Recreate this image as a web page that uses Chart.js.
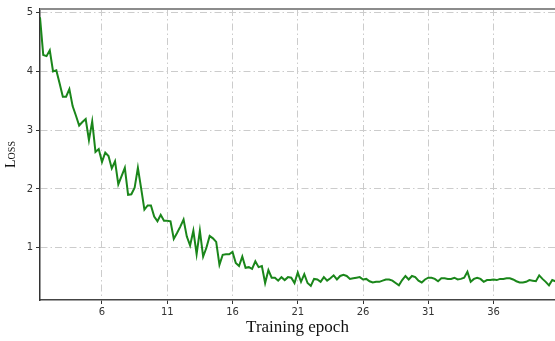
<!DOCTYPE html>
<html>
<head>
<meta charset="utf-8">
<script src="https://cdn.jsdelivr.net/npm/chart.js@4"></script>
<style>
  html, body { margin: 0; padding: 0; background: #ffffff; }
  canvas { display: block; }
</style>
</head>
<body>
<canvas id="c" width="555" height="341"></canvas>
<script>
// ---- data ----
const epochStart = 1.25;   // first sample (epoch)
const epochStep = 0.25;    // samples every quarter epoch
const lossValues = [
  4.92, 4.28, 4.26, 4.36, 4.00, 4.02, 3.80, 3.57, 3.57, 3.70,
  3.41, 3.25, 3.08, 3.14, 3.19, 2.83, 3.15, 2.63, 2.68, 2.46,
  2.62, 2.56, 2.35, 2.47, 2.08, 2.22, 2.36, 1.90, 1.91, 2.02,
  2.36, 2.01, 1.65, 1.72, 1.72, 1.53, 1.45, 1.56, 1.46, 1.46,
  1.45, 1.15, 1.25, 1.36, 1.48, 1.19, 1.04, 1.29, 0.89, 1.29,
  0.85, 1.00, 1.20, 1.16, 1.10, 0.71, 0.88, 0.89, 0.89, 0.93,
  0.74, 0.69, 0.85, 0.66, 0.67, 0.64, 0.77, 0.67, 0.69, 0.40,
  0.62, 0.49, 0.49, 0.44, 0.50, 0.45, 0.50, 0.49, 0.40, 0.58,
  0.42, 0.55, 0.40, 0.35, 0.47, 0.46, 0.42, 0.50, 0.44,
  0.48, 0.53, 0.46, 0.52, 0.54, 0.52, 0.47, 0.48, 0.49, 0.50,
  0.46, 0.47, 0.43, 0.41, 0.42, 0.42, 0.44, 0.46, 0.46, 0.44,
  0.40, 0.36, 0.45, 0.52, 0.46, 0.52, 0.50, 0.44, 0.41, 0.46,
  0.49, 0.49, 0.47, 0.43, 0.48,
  0.48, 0.47, 0.47, 0.49, 0.46, 0.47, 0.49, 0.59, 0.42, 0.47,
  0.49, 0.47, 0.42, 0.45, 0.45, 0.46, 0.45, 0.47, 0.47, 0.48,
  0.48, 0.46, 0.43, 0.41, 0.41, 0.42, 0.45, 0.44, 0.43, 0.53,
  0.47, 0.42, 0.36, 0.45, 0.43
];
const xTickValues = [6, 11, 16, 21, 26, 31, 36];
const yTickValues = [1, 2, 3, 4, 5];
const xTitle = 'Training epoch';
const yTitle = 'Loss';

const points = lossValues.map((v, i) => ({ x: epochStart + i * epochStep, y: v }));

const gridDash = [7, 3, 1.5, 3];

const topFrame = {
  id: 'topFrame',
  afterDraw(chart) {
    const { ctx, chartArea } = chart;
    ctx.save();
    ctx.strokeStyle = '#8c8c8c';
    ctx.lineWidth = 2;
    ctx.beginPath();
    ctx.moveTo(chartArea.left, chartArea.top);
    ctx.lineTo(chartArea.right, chartArea.top);
    ctx.stroke();
    ctx.restore();
  }
};

new Chart(document.getElementById('c'), {
  type: 'line',
  data: {
    datasets: [{
      data: points,
      borderColor: '#1a861a',
      borderWidth: 2,
      pointRadius: 0,
      tension: 0,
      fill: false
    }]
  },
  options: {
    responsive: false,
    animation: false,
    layout: { padding: { top: 5, right: 0, left: 0, bottom: 0 } },
    plugins: { legend: { display: false }, tooltip: { enabled: false } },
    scales: {
      x: {
        type: 'linear',
        min: 1.25,
        max: 40.71,
        afterBuildTicks: s => { s.ticks = xTickValues.map(v => ({ value: v })); },
        afterFit: s => { s.height = 41; },
        ticks: {
          color: '#333333',
          font: { family: 'DejaVu Sans', size: 10 },
          padding: 2,
          maxRotation: 0,
          autoSkip: false
        },
        grid: {
          color: '#cccccc',
          lineWidth: 1,
          drawTicks: true,
          tickLength: 4,
          tickColor: '#333333',
          tickBorderDash: []
        },
        border: { display: true, color: '#444444', width: 1.5, dash: gridDash },
        title: {
          display: true,
          text: xTitle,
          color: '#111111',
          font: { family: 'Liberation Serif', size: 17 },
          padding: { top: 0, bottom: 3 }
        }
      },
      y: {
        type: 'linear',
        min: 0.111,
        max: 5.062,
        afterBuildTicks: s => { s.ticks = yTickValues.map(v => ({ value: v })); },
        afterFit: s => { s.width = 40; },
        ticks: {
          color: '#333333',
          font: { family: 'DejaVu Sans', size: 10 },
          padding: 3,
          autoSkip: false
        },
        grid: {
          color: '#cccccc',
          lineWidth: 1,
          drawTicks: true,
          tickLength: 4,
          tickColor: '#333333',
          tickBorderDash: []
        },
        border: { display: true, color: '#333333', width: 1.5, dash: gridDash },
        title: {
          display: true,
          text: yTitle,
          color: '#111111',
          font: { family: 'Liberation Serif', size: 14, weight: 'small-caps' },
          padding: { top: 3, bottom: 0 }
        }
      }
    }
  },
  plugins: [topFrame]
});
</script>
</body>
</html>
